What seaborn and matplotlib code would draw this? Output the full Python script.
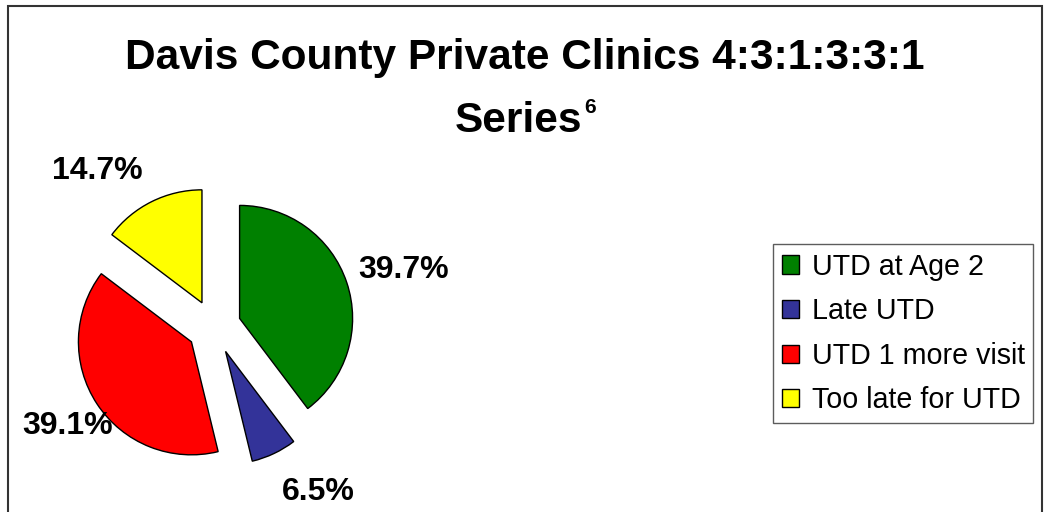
import numpy as np
import matplotlib.pyplot as plt
import seaborn as sns
from matplotlib.patches import Rectangle

# Data
categories = ['UTD at Age 2', 'Late UTD', 'UTD 1 more visit', 'Too late for UTD']
shares = [39.7, 6.5, 39.1, 14.7]
colors = ['#008000', '#333399', '#FF0000', '#FFFF00']

W, H = 1044, 512

sns.set_theme(style='white')
plt.rcParams['font.family'] = ['Liberation Sans', 'DejaVu Sans']
plt.rcParams['text.color'] = 'black'

fig = plt.figure(figsize=(W / 100, H / 100), dpi=100)
ax = fig.add_axes([0, 0, 1, 1])

# Pie in pixel-like data units (1 unit = 1 px)
wedges, _ = ax.pie(shares, colors=colors, startangle=90, counterclock=False,
                   radius=113, center=(214, 185), explode=[27] * len(shares),
                   wedgeprops=dict(edgecolor='black', linewidth=1.0))
ax.set_xlim(0, W)
ax.set_ylim(0, H)
ax.set_aspect('equal')
ax.axis('off')

# percentage labels outside each slice
label_dist = [171, 168, 150, 168]
label_shift = [-2, 8, 1, 12]
for w, v, d, s in zip(wedges, shares, label_dist, label_shift):
    tm = np.deg2rad((w.theta1 + w.theta2) / 2 + s)
    cx, cy = w.center
    ax.text(cx + d * np.cos(tm), cy + d * np.sin(tm), f'{v:.1f}%',
            ha='center', va='center', fontsize=23, fontweight='bold',
            color='black')

# Title (two lines, superscript on the second)
fig.text(525 / W, 1 - 69 / H, 'Davis County Private Clinics 4:3:1:3:3:1',
         ha='center', va='baseline', fontsize=30.5, fontweight='bold')
t_series = fig.text(0, 1 - 132 / H, 'Series', ha='left', va='baseline',
                    fontsize=30.5, fontweight='bold')
t_sup = fig.text(0, 1 - 113 / H, '6', ha='left', va='baseline',
                 fontsize=15, fontweight='bold')
fig.canvas.draw()
r = fig.canvas.get_renderer()
ws = t_series.get_window_extent(r).width
w6 = t_sup.get_window_extent(r).width
left = 525 - (ws + 2 + w6) / 2
t_series.set_x(left / W)
t_sup.set_x((left + ws + 2) / W)

# Legend
leg = ax.legend(wedges, categories, loc='upper left',
                bbox_to_anchor=(773 / W, 1 - 244 / H), bbox_transform=fig.transFigure,
                borderaxespad=0, fontsize=20.6, frameon=True, fancybox=False,
                edgecolor='#333333', handlelength=0.6, handleheight=0.6,
                handletextpad=0.45, labelspacing=0.58, borderpad=0.3)
leg.get_frame().set_linewidth(1.0)
for txt in leg.get_texts():
    txt.set_color('black')

# outer chart border
ax.add_patch(Rectangle((8, -5), 1034, H - 6 + 5, fill=False,
                       edgecolor='#333333', linewidth=1.5, clip_on=False))

fig.savefig('out.png', dpi=100)
